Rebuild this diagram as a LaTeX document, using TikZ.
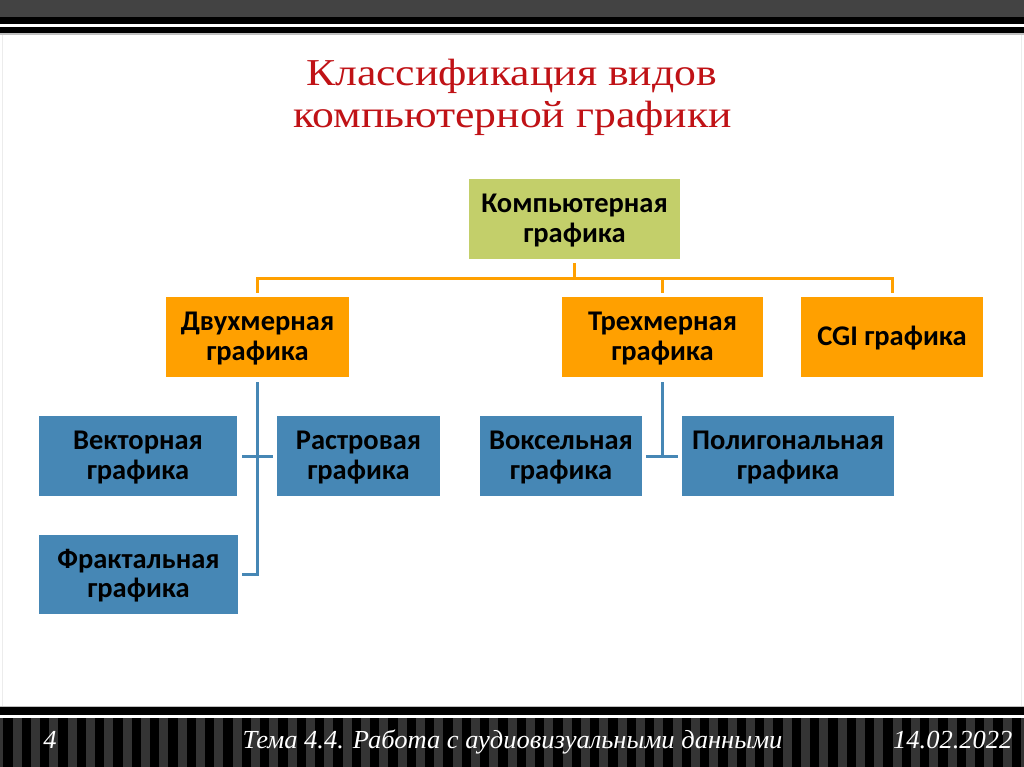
\documentclass[tikz,border=0pt]{standalone}
\usepackage{fontspec}
\setmainfont{Liberation Serif}
\newfontfamily\boxfont{Carlito}
\newfontfamily\titlefont[FakeStretch=1.15]{Liberation Serif}
\newfontfamily\footfont[FakeStretch=1.02]{Liberation Serif}
\definecolor{topgray}{RGB}{67,67,67}
\definecolor{stripe}{RGB}{52,52,52}
\definecolor{rootgreen}{RGB}{195,207,106}
\definecolor{orng}{RGB}{255,160,0}
\definecolor{blu}{RGB}{70,135,181}
\definecolor{titlered}{RGB}{192,18,22}
\newcommand{\bxt}[1]{\raisebox{-2.5pt}[\height][\depth]{\begin{tabular}{@{}c@{}}#1\end{tabular}}}
\tikzset{
  box/.style={inner sep=0pt, font=\boxfont\bfseries\fontsize{28.5}{29.5}\selectfont, text=black},
  rootbox/.style={box, fill=rootgreen},
  obox/.style={box, fill=orng},
  bbox/.style={box, fill=blu},
  oline/.style={draw=orng, line width=3pt},
  bline/.style={draw=blu, line width=3pt},
  titletext/.style={font=\titlefont\fontsize{38}{42}\selectfont, text=titlered, anchor=base},
  foottext/.style={font=\footfont\itshape\fontsize{26}{28}\selectfont, text=white, anchor=base},
}
\begin{document}
\begin{tikzpicture}[x=1pt,y=-1pt]
\useasboundingbox (0,0) rectangle (1024,767);
\fill[white] (0,0) rectangle (1024,767);
% top bands
\fill[topgray] (0,0) rectangle (1024,17);
\fill[black] (0,17) rectangle (1024,24);
\fill[black] (0,27) rectangle (1024,33.5);
\fill[gray!50] (0,33.5) rectangle (1024,35);
% side faint lines
\draw[gray!15, line width=1pt] (2.5,35) -- (2.5,707);
\draw[gray!15, line width=1pt] (1021.5,35) -- (1021.5,707);
% bottom bands
\fill[gray!50] (0,705.5) rectangle (1024,707.3);
\fill[black] (0,707.3) rectangle (1024,715);
\fill[black] (0,717.5) rectangle (1024,767);
\foreach \i in {0,...,56} {
  \fill[stripe] ({-5.6+18.33*\i},717.5) rectangle ({-5.6+18.33*\i+9},767);
}
% title
\node[titletext] (title1) at (511.5,86) {Классификация видов};
\node[titletext] (title2) at (512.5,128) {компьютерной графики};
% boxes
\node[rootbox, minimum width=211pt, minimum height=80pt] (root) at (574.5,219) {\bxt{Компьютерная\\графика}};
\node[obox, minimum width=183pt, minimum height=80pt] (d2) at (257.5,337) {\bxt{Двухмерная\\графика}};
\node[obox, minimum width=201pt, minimum height=80pt] (d3) at (662.5,337) {\bxt{Трехмерная\\графика}};
\node[obox, minimum width=182pt, minimum height=80pt] (cgi) at (892,337) {\bxt{CGI графика}};
\node[bbox, minimum width=198pt, minimum height=80pt] (vec) at (138,456) {\bxt{Векторная\\графика}};
\node[bbox, minimum width=163pt, minimum height=80pt] (ras) at (358.5,456) {\bxt{Растровая\\графика}};
\node[bbox, minimum width=199pt, minimum height=79pt] (fra) at (138.5,574.5) {\bxt{Фрактальная\\графика}};
\node[bbox, minimum width=162pt, minimum height=80pt] (vox) at (561,456) {\bxt{Воксельная\\графика}};
\node[bbox, minimum width=212pt, minimum height=80pt] (pol) at (788,456) {\bxt{Полигональная\\графика}};
% orange connectors
\coordinate (bus) at (574.5,278);
\draw[oline] ([yshift=-4pt]root.south) -- (bus);
\draw[oline] ([yshift=4pt]d2.north) |- (bus) -| ([yshift=4pt]cgi.north);
\draw[oline] ([yshift=4pt]d3.north) -- (d3.north |- bus);
% blue connectors
\draw[bline] ([yshift=-5pt]d2.south) -- (d2.south |- fra.east) -- ([xshift=4pt]fra.east);
\draw[bline] ([xshift=5pt]vec.east) -- ([xshift=-4pt]ras.west);
\draw[bline] ([yshift=-5pt]d3.south) -- (d3.south |- vox.east);
\draw[bline] ([xshift=4pt]vox.east) -- ([xshift=-4pt]pol.west);
% footer
\node[foottext] (num) at (50,748) {4};
\node[foottext] (theme) at (512.5,748) {Тема 4.4. Работа с аудиовизуальными данными};
\node[foottext, anchor=base east] (date) at (1016,748) {14.02.2022};
\end{tikzpicture}
\end{document}
